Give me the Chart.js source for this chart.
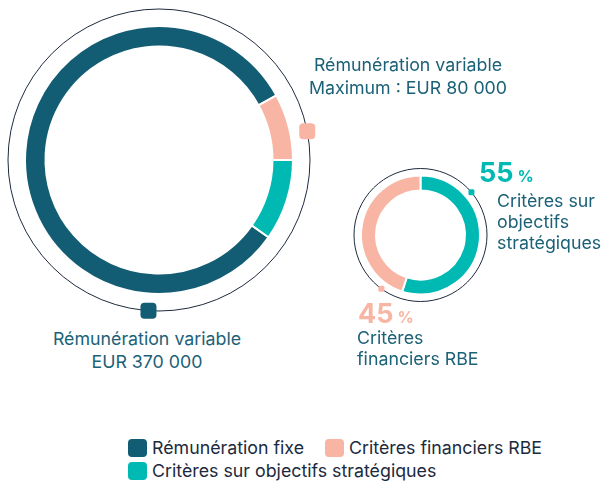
<!DOCTYPE html>
<html>
<head>
<meta charset="utf-8">
<script src="https://cdn.jsdelivr.net/npm/chart.js@4"></script>
<style>
  body { margin: 0; background: #fff; font-family: Inter, "Noto Sans", sans-serif; }
  #wrap { position: relative; width: 606px; height: 483px; overflow: hidden; }
  canvas { position: absolute; }
  .lbl { position: absolute; color: #1b6177; font-size: 17.8px; line-height: 23px; white-space: nowrap; }
  .center { text-align: center; transform: translateX(-50%); }
  .pct { font-weight: 700; font-size: 27px; line-height: 30px; }
  .pct small { font-size: 16px; margin-left: 4px; }
  #legend { position: absolute; left: 128px; top: 436px; width: 430px; display: flex; flex-wrap: wrap; column-gap: 21px; }
  #legend div { display: flex; align-items: center; height: 23px; font-size: 17.8px; color: #1c2a3e; }
  #legend span.box { width: 19px; height: 18px; border-radius: 4px; margin-right: 5px; }
</style>
</head>
<body>
<div id="wrap">
  <canvas id="bigChart" width="318" height="320" style="left:0;top:0"></canvas>
  <canvas id="smallChart" width="151" height="150" style="left:345px;top:160px"></canvas>
  <div id="labels"></div>
  <div id="legend"></div>
</div>
<script>
// data
const categories = ["Rémunération fixe", "Critères financiers RBE", "Critères sur objectifs stratégiques"];
const colors = ["#135d74", "#f8b5a4", "#00b9b3"];
const bigValues = [370000, 36000, 44000];          // EUR
const splitLabels = ["Critères sur objectifs stratégiques", "Critères financiers RBE"];
const splitValues = [55, 45];                      // %
const splitColors = ["#00b9b3", "#f8b5a4"];
const variableMax = "EUR 80 000";
const fixedAmount = "EUR 370 000";

// thin outline circle + little square markers around a ring
function ringDecor(radius, markers) {
    return {
        id: "ringDecor",
        beforeDatasetsDraw(chart) {
            let arc = chart.getDatasetMeta(0).data[0];
            let ctx = chart.ctx;
            ctx.save();
            ctx.strokeStyle = "#1d2a3d";
            ctx.lineWidth = 1;
            ctx.beginPath();
            ctx.arc(arc.x, arc.y, radius, 0, Math.PI * 2);
            ctx.stroke();
            markers.forEach(m => {
                let a = (m.angle - 90) * Math.PI / 180;
                let mx = arc.x + radius * Math.cos(a);
                let my = arc.y + radius * Math.sin(a);
                ctx.fillStyle = m.color;
                ctx.beginPath();
                ctx.roundRect(mx - m.size / 2, my - m.size / 2, m.size, m.size, m.size / 4);
                ctx.fill();
            });
            ctx.restore();
        }
    };
}

new Chart(document.getElementById("bigChart"), {
    type: "doughnut",
    data: {
        labels: categories,
        datasets: [{
            data: bigValues,
            backgroundColor: colors,
            borderColor: "#fff",
            borderWidth: 2
        }]
    },
    options: {
        responsive: false,
        animation: false,
        events: [],
        radius: 134,
        cutout: (113.5 / 134 * 100) + "%",
        rotation: 125.2,
        plugins: { legend: { display: false }, tooltip: { enabled: false } }
    },
    plugins: [ringDecor(151, [
        { angle: 79, color: colors[1], size: 16 },
        { angle: 184, color: colors[0], size: 16 }
    ])]
});

new Chart(document.getElementById("smallChart"), {
    type: "doughnut",
    data: {
        labels: splitLabels,
        datasets: [{
            data: splitValues,
            backgroundColor: splitColors,
            borderColor: "#fff",
            borderWidth: 2
        }]
    },
    options: {
        responsive: false,
        animation: false,
        events: [],
        radius: 59.5,
        cutout: (44.5 / 59.5 * 100) + "%",
        rotation: 0,
        plugins: { legend: { display: false }, tooltip: { enabled: false } }
    },
    plugins: [ringDecor(66.5, [
        { angle: 50, color: splitColors[0], size: 6 },
        { angle: 216, color: splitColors[1], size: 6 }
    ])]
});

// text labels
let labels = document.getElementById("labels");
function addLabel(html, style, cls) {
    let d = document.createElement("div");
    d.className = "lbl " + (cls || "");
    d.style.cssText = style;
    d.innerHTML = html;
    labels.appendChild(d);
}
addLabel("Rémunération variable<br>Maximum : " + variableMax, "left:408px;top:53px", "center");
addLabel("Rémunération variable<br>" + fixedAmount, "left:147px;top:327px", "center");
addLabel(splitValues[0] + "<small>%</small>", "left:479px;top:158px;color:" + splitColors[0], "pct");
addLabel("Critères sur<br>objectifs<br>stratégiques", "left:497px;top:190px;line-height:21px");
addLabel(splitValues[1] + "<small>%</small>", "left:358px;top:299px;color:" + splitColors[1], "pct");
addLabel("Critères<br>financiers RBE", "left:357px;top:327px;line-height:21px");

// legend
let legend = document.getElementById("legend");
categories.forEach((c, i) => {
    let item = document.createElement("div");
    item.innerHTML = '<span class="box" style="background:' + colors[i] + '"></span>' + c;
    legend.appendChild(item);
});
</script>
</body>
</html>
